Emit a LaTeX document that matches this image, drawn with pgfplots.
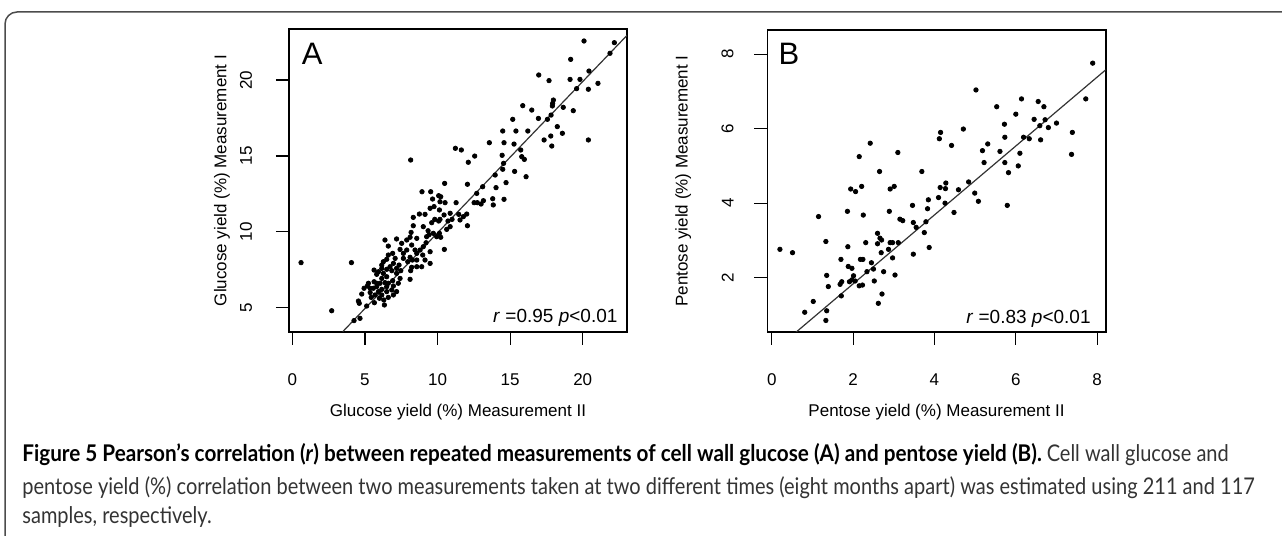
\documentclass[border=0pt]{standalone}
\usepackage{pgfplots}
\pgfplotsset{compat=1.18}
\usepackage{fontspec}
\setmainfont{Liberation Sans}
\newfontfamily\capfont[UprightFeatures={FakeStretch=0.87}, ItalicFeatures={FakeStretch=0.87}, BoldFeatures={FakeStretch=0.90}, BoldItalicFeatures={FakeStretch=0.90}]{Lato}
\pgfplotsset{
  rstyle/.style={
    scale only axis, anchor=south west,
    tick align=outside, xtick pos=left, ytick pos=left,
    major tick length=6.5pt,
    tick style={black, line width=0.6pt},
    axis line style={black, line width=0.8pt},
    /pgf/number format/assume math mode=true,
    ticklabel style={font=\fontsize{8.5}{10}\selectfont},
    xticklabel style={anchor=north, yshift=-11pt},
    label style={font=\fontsize{8.5}{10}\selectfont},
    xlabel style={at={(axis description cs:0.5,0)}, anchor=center, yshift=-40pt},
    clip=true,
  },
  dots/.style={only marks, mark=*, mark size=1.1pt, black},
  fit/.style={no marks, black!80, line width=0.6pt},
}
\begin{document}
\begin{tikzpicture}
\useasboundingbox (0,0) rectangle (641pt,268pt);
\draw[line width=0.75pt, black!70] (2.5pt,-2pt) -- (2.5pt,256pt) arc[start angle=180,end angle=90,radius=6pt] -- (645pt,262pt);

\begin{axis}[rstyle, at={(144.5pt,102pt)}, width=169pt, height=151.5pt,
  xmin=-0.23, xmax=23.05, ymin=3.4, ymax=23.36,
  xtick={0,5,10,15,20}, ytick={5,10,15,20},
  yticklabel style={rotate=90, anchor=south, yshift=8.5pt},
  xlabel={Glucose yield (\%) Measurement II},
  ylabel={Glucose yield (\%) Measurement I},
  ylabel style={at={(axis description cs:0,0.5)}, anchor=center, yshift=33.5pt},
]
\addplot[dots] coordinates {
(20.09,22.57)(22.18,22.46)(21.88,21.76)(19.17,21.36)(20.43,20.59)(16.97,20.33)(17.68,19.96)(19.13,20.04)(19.81,20.04)(21.05,19.78)
(19.58,19.43)(20.39,19.39)(17.98,18.68)(17.93,18.46)(17.91,18.29)(15.87,18.31)(16.49,18.02)(18.66,18.20)(19.35,17.98)(17.82,17.69)
(16.95,17.47)(17.57,17.41)(15.18,17.41)(18.25,16.93)(18.60,16.49)(14.49,16.64)(15.40,16.64)(16.22,16.64)(17.34,16.05)(17.80,16.31)
(17.87,15.65)(20.39,16.05)(13.57,15.87)(14.58,15.87)(15.27,15.78)(11.23,15.50)(11.64,15.39)(15.73,15.39)(14.45,15.04)(15.80,14.95)
(15.98,14.77)(12.56,14.99)(8.15,14.73)(12.12,14.58)(14.55,14.51)(14.49,14.12)(15.31,13.98)(13.97,13.74)(16.10,13.63)(14.72,13.24)
(10.49,13.19)(12.06,13.13)(13.11,12.97)(14.03,12.91)(8.93,12.64)(9.53,12.64)(10.08,12.38)(10.22,12.31)(9.66,12.16)(14.58,12.14)
(13.80,12.18)(13.16,12.05)(12.74,11.92)(13.00,11.83)(12.52,11.92)(10.17,11.98)(10.52,11.92)(11.28,11.92)(9.76,11.66)(9.49,11.55)
(10.13,11.44)(8.75,11.17)(9.14,11.15)(10.45,11.11)(10.87,11.22)(11.46,11.15)(12.01,11.17)(11.55,10.78)(11.0,10.82)(8.33,10.95)
(9.81,10.82)(8.33,10.40)(9.02,10.34)(9.60,10.60)(10.08,10.71)(10.72,10.71)(12.06,10.40)(10.63,10.16)(9.35,10.07)(9.71,9.90)
(10.13,9.90)(10.22,9.64)(9.42,9.81)(8.18,9.96)(8.57,9.57)(7.18,9.53)(6.38,9.46)(7.88,9.46)(8.11,9.64)(9.21,9.28)
(9.02,9.02)(7.53,9.24)(6.61,9.06)(8.22,9.13)(8.45,8.80)(7.88,8.80)(7.42,8.84)(8.80,8.80)(10.47,8.84)(6.91,8.58)
(8.57,8.58)(8.98,8.47)(8.11,8.32)(7.65,8.25)(7.08,8.25)(6.50,8.19)(9.14,8.14)(9.49,7.92)(8.27,8.14)(7.95,8.03)
(6.27,8.03)(4.07,7.97)(0.6,7.97)(6.96,7.92)(7.35,7.81)(6.73,7.70)(6.16,7.59)(8.22,7.66)(8.15,7.44)(5.63,7.48)
(5.93,7.37)(6.50,7.53)(6.85,7.44)(7.47,7.44)(6.27,7.26)(5.81,7.20)(7.18,7.26)(6.50,7.04)(6.16,6.93)(7.42,6.93)
(8.11,6.87)(6.91,6.78)(6.61,6.61)(5.63,6.71)(5.24,6.61)(6.04,6.61)(6.38,6.65)(5.17,6.43)(5.81,6.39)(6.50,6.39)
(6.96,6.43)(7.30,6.61)(4.94,6.28)(5.58,6.28)(6.16,6.21)(6.50,6.06)(6.85,6.17)(5.93,6.06)(5.36,6.0)(4.78,5.90)
(5.70,5.84)(6.16,5.84)(6.61,5.68)(6.96,5.84)(5.43,5.68)(6.0,5.62)(5.65,5.33)(6.34,5.18)(5.12,5.11)(4.55,5.44)
(4.61,5.29)(2.71,4.80)(4.25,4.15)(4.66,4.30)(7.18,7.59)(7.65,8.58)(6.61,8.47)(6.16,7.81)(5.81,6.61)(5.36,6.28)
(6.30,5.51)(7.18,6.06)(8.57,7.70)(8.91,7.70)(8.57,8.14)(9.49,8.69)(9.94,9.68)(9.25,9.68)(10.87,10.34)(10.17,10.82)
(11.78,11.0)(12.70,12.53)(13.84,11.77)
};
\addplot[fit] coordinates {(3.47,3.42) (23.07,22.96)};
\node[anchor=base west, inner sep=0, font=\fontsize{15.5}{18}\selectfont] at (rel axis cs:0.037,0.884) {A};
\node[anchor=base east, inner sep=0, font=\fontsize{9.5}{11}\selectfont] at (rel axis cs:0.973,0.030) {\textit{r} =0.95 \textit{p}<0.01};
\end{axis}

\begin{axis}[rstyle, at={(383.65pt,102pt)}, width=169.2pt, height=151pt,
  xmin=-0.11, xmax=8.21, ymin=0.54, ymax=8.65,
  xtick={0,2,4,6,8}, ytick={2,4,6,8},
  yticklabel style={rotate=90, anchor=south, yshift=6.8pt},
  xlabel={Pentose yield (\%) Measurement II},
  ylabel={Pentose yield (\%) Measurement I},
  ylabel style={at={(axis description cs:0,0.5)}, anchor=center, yshift=42pt},
]
\addplot[dots] coordinates {
(5.02,7.04)(5.53,6.59)(6.14,6.80)(6.55,6.73)(6.69,6.59)(6.0,6.39)(5.72,6.12)(6.45,6.25)(6.72,6.24)(6.59,6.08)
(6.80,6.03)(7.0,6.15)(7.39,5.90)(4.12,5.73)(4.15,5.90)(4.71,5.99)(4.42,5.55)(2.42,5.61)(2.15,5.25)(2.21,4.45)
(2.06,4.31)(1.94,4.38)(2.65,4.85)(3.10,5.36)(3.69,4.85)(4.28,4.54)(4.14,4.42)(4.27,4.39)(4.10,4.15)(4.26,4.0)
(4.59,4.36)(4.84,4.57)(4.99,4.27)(5.08,4.05)(5.18,5.41)(5.22,5.09)(5.31,5.59)(5.61,5.39)(5.73,5.77)(5.73,5.09)
(5.82,4.82)(5.79,3.94)(6.10,5.34)(6.06,5.0)(6.19,5.77)(6.33,5.73)(6.61,5.70)(7.37,5.31)(3.01,4.45)(2.91,4.38)
(3.46,3.94)(3.85,4.09)(3.83,3.85)(4.48,3.75)(3.48,3.48)(3.15,3.57)(3.22,3.53)(2.89,3.78)(2.25,3.68)(1.86,3.78)
(1.15,3.64)(3.55,3.35)(3.79,3.50)(3.75,3.21)(3.87,2.81)(3.48,2.63)(2.60,3.19)(2.66,3.06)(2.70,3.01)(2.31,2.94)
(2.60,2.91)(2.91,2.94)(2.97,2.94)(3.11,2.94)(2.87,2.76)(2.69,2.67)(2.45,2.40)(2.24,2.49)(2.18,2.49)(2.97,2.53)
(1.87,2.83)(1.33,2.97)(1.70,2.49)(1.88,2.30)(1.97,2.25)(2.50,2.23)(2.34,2.16)(2.75,2.16)(3.03,2.07)(2.01,2.05)
(1.72,1.89)(1.91,1.89)(1.97,1.94)(2.05,1.91)(2.23,1.80)(2.15,1.78)(2.52,1.91)(1.35,2.06)(1.39,1.76)(1.68,1.82)
(1.71,1.51)(2.71,1.56)(2.62,1.31)(1.02,1.36)(0.81,1.07)(1.35,1.11)(1.33,0.85)(0.20,2.76)(0.51,2.67)(7.89,7.76)
(7.72,6.80)
};
\addplot[fit] coordinates {(0.57,0.51) (8.21,7.58)};
\node[anchor=base west, inner sep=0, font=\fontsize{15.5}{18}\selectfont] at (rel axis cs:0.0325,0.887) {B};
\node[anchor=base east, inner sep=0, font=\fontsize{9.5}{11}\selectfont] at (rel axis cs:0.9566,0.029) {\textit{r} =0.83 \textit{p}<0.01};
\end{axis}

\begin{scope}[every node/.style={anchor=base west, inner sep=0, font=\capfont\fontsize{11.5}{14}\selectfont, text=black!80}]
\node at (11pt,37pt) {\textbf{\color{black}Figure 5 Pearson’s correlation (\textit{r}) between repeated measurements of cell wall glucose (A) and pentose yield (B).} Cell wall glucose and};
\node at (11pt,20.5pt) {pentose yield (\%) correlation between two measurements taken at two different times (eight months apart) was estimated using 211 and 117};
\node at (11pt,6pt) {samples, respectively.};
\end{scope}
\end{tikzpicture}
\end{document}
